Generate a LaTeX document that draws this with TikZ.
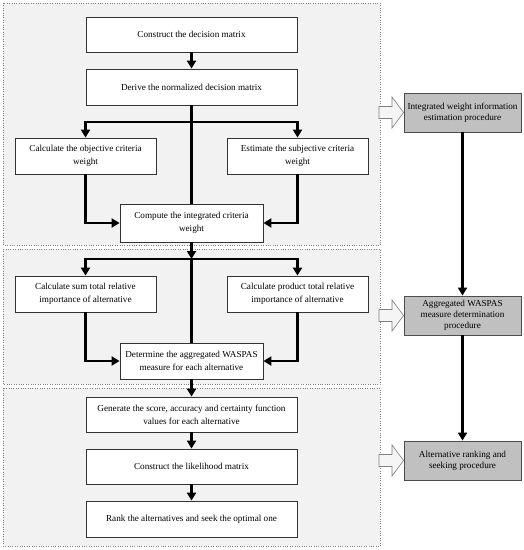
\documentclass[tikz,border=0pt]{standalone}
\usepackage{fontspec}
\setmainfont{Liberation Serif}
\usetikzlibrary{arrows.meta}
\definecolor{panelfill}{HTML}{F2F2F2}
\definecolor{grayfill}{HTML}{C0C0C0}
\tikzset{
  panel/.style={draw=black!50, dotted, fill=panelfill},
  stepbox/.style={draw=black!80, line width=0.8bp, fill=white, align=center, inner sep=1bp,
    font=\fontsize{9.2}{13}\selectfont},
  procbox/.style={draw=black!70, line width=0.8bp, fill=grayfill, align=center, inner sep=1bp,
    minimum width=117bp, minimum height=39bp, font=\fontsize{9.2}{11.2}\selectfont},
  conn/.style={line width=2.2bp, black},
  arr/.style={conn, -{Triangle[length=8bp,width=9bp]}},
  hollow/.style={draw=black!50, line width=0.6bp, fill=white!96!black},
}
\begin{document}
\begin{tikzpicture}[x=1bp,y=-1bp]
\useasboundingbox (0,0) rectangle (524,550);
% panels
\path[panel] (3,3) rectangle (380,245);
\path[panel] (3,249) rectangle (380,384);
\path[panel] (3,388) rectangle (380,546);
% boxes
\node[stepbox, minimum width=211bp, minimum height=35bp] (b1) at (191.5,34.5) {Construct the decision matrix};
\node[stepbox, minimum width=211bp, minimum height=36bp] (b2) at (191.5,87) {Derive the normalized decision matrix};
\node[stepbox, minimum width=141bp, minimum height=36bp] (b3) at (85.5,156) {Calculate the objective criteria\\weight};
\node[stepbox, minimum width=141bp, minimum height=36bp] (b4) at (297.5,156) {Estimate the subjective criteria\\weight};
\node[stepbox, minimum width=143bp, minimum height=38bp] (b5) at (191.5,223) {Compute the integrated criteria\\weight};
\node[stepbox, minimum width=141bp, minimum height=36bp] (b6) at (85.5,294) {Calculate sum total relative\\importance of alternative};
\node[stepbox, minimum width=141bp, minimum height=36bp] (b7) at (297.5,294) {Calculate product total relative\\importance of alternative};
\node[stepbox, minimum width=143bp, minimum height=36bp] (b8) at (191.5,361) {Determine the aggregated WASPAS\\measure for each alternative};
\node[stepbox, minimum width=211bp, minimum height=35bp] (b9) at (191.5,414.5) {Generate the score, accuracy and certainty function\\values for each alternative};
\node[stepbox, minimum width=211bp, minimum height=35bp] (b10) at (191.5,466.5) {Construct the likelihood matrix};
\node[stepbox, minimum width=211bp, minimum height=36bp] (b11) at (191.5,519) {Rank the alternatives and seek the optimal one};
% procedure boxes
\node[procbox] (g1) at (462.5,112.5) {Integrated weight information\\estimation procedure};
\node[procbox] (g2) at (462.5,315.5) {Aggregated WASPAS\\measure determination\\procedure};
\node[procbox] (g3) at (462.5,460.5) {Alternative ranking and\\seeking procedure};
% junctions
\coordinate (j1) at (191.5,122);
\coordinate (j2) at (191.5,259);
% connectors, stage 1
\draw[arr] (b1) -- (b2);
\draw[conn] (b2.south) -- (b5.north);
\draw[arr] (j1) -| (b3.north);
\draw[arr] (j1) -| (b4.north);
\draw[arr] (b3.south) |- (b5.west);
\draw[arr] (b4.south) |- (b5.east);
% stage 2
\draw[arr] (b5.south) -- (j2);
\draw[conn] (j2) -- (b8.north);
\draw[arr] (j2) -| (b6.north);
\draw[arr] (j2) -| (b7.north);
\draw[arr] (b6.south) |- (b8.west);
\draw[arr] (b7.south) |- (b8.east);
% stage 3
\draw[arr] (b8) -- (b9);
\draw[arr] (b9) -- (b10);
\draw[arr] (b10) -- (b11);
% right column
\draw[arr] (g1) -- (g2);
\draw[arr] (g2) -- (g3);
% hollow block arrows
\foreach \g/\cy in {g1/112.5, g2/315.5, g3/460.5}{
  \path[hollow] (379,\cy-6) -- (392,\cy-6) -- (392,\cy-15.5) -- (\g.west) -- (392,\cy+15.5) -- (392,\cy+6) -- (379,\cy+6) -- cycle;
}
\end{tikzpicture}
\end{document}
